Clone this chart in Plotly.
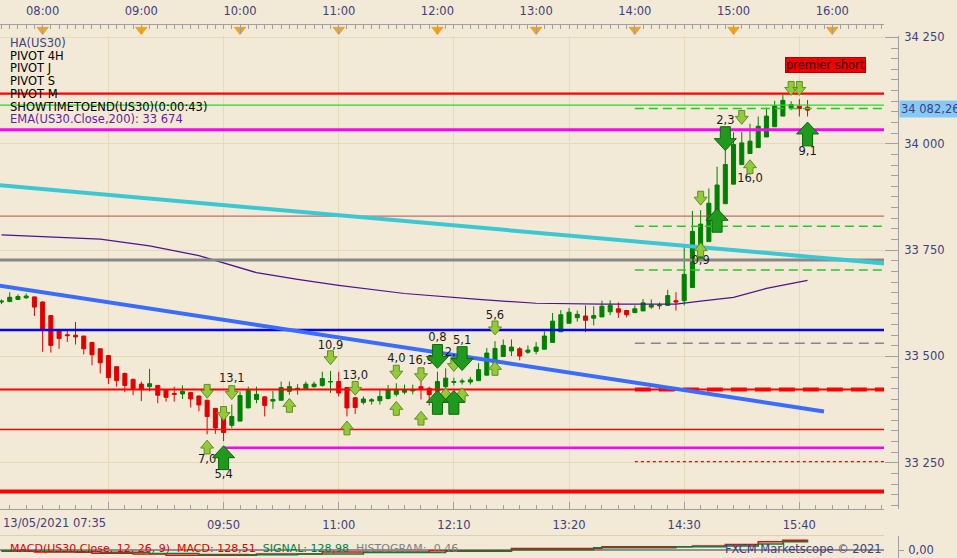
import plotly.graph_objects as go
import pandas as pd

DAY = "2021-05-13 "
BG = "#f2ead6"
GRID = "#e6d9bd"
NAVY = "#404080"
FONT = "DejaVu Sans"

# ---------------- data ----------------
candle_time = pd.date_range(DAY + "07:35", periods=99, freq="5min")
ha_open = [33628, 33629, 33634, 33638, 33640, 33628, 33596, 33561, 33551, 33550,
           33548, 33533, 33518, 33502, 33476, 33460, 33446, 33435, 33429, 33432,
           33421, 33413, 33412, 33415, 33407, 33397, 33378, 33355, 33338, 33348,
           33379, 33399, 33405, 33395, 33397, 33418, 33423, 33424, 33429, 33432,
           33440, 33441, 33427, 33403, 33392, 33395, 33396, 33401, 33411, 33416,
           33419, 33429, 33425, 33418, 33429, 33439, 33440, 33440, 33443, 33456,
           33482, 33500, 33513, 33518, 33510, 33512, 33517, 33533, 33558, 33578,
           33591, 33595, 33590, 33593, 33605, 33612, 33608, 33603, 33607, 33616,
           33619, 33620, 33631, 33631, 33662, 33728, 33770, 33815, 33859, 33905,
           33951, 33977, 33991, 34016, 34040, 34065, 34084, 34088, 34086]
ha_high = [33634, 33651, 33646, 33648, 33641, 33630, 33597, 33561, 33561, 33581,
           33548, 33533, 33518, 33502, 33476, 33462, 33448, 33441, 33471, 33432,
           33422, 33429, 33432, 33415, 33408, 33398, 33378, 33355, 33387, 33418,
           33429, 33429, 33406, 33419, 33441, 33441, 33435, 33441, 33441, 33464,
           33466, 33464, 33427, 33404, 33406, 33402, 33422, 33433, 33437, 33434,
           33434, 33441, 33429, 33464, 33472, 33450, 33448, 33452, 33484, 33520,
           33536, 33540, 33540, 33522, 33526, 33534, 33559, 33602, 33609, 33614,
           33608, 33620, 33618, 33631, 33632, 33627, 33608, 33620, 33635, 33634,
           33627, 33657, 33651, 33760, 33842, 33844, 33895, 33946, 34000, 34027,
           34028, 34047, 34064, 34085, 34101, 34115, 34100, 34105, 34103]
ha_low = [33623, 33628, 33633, 33635, 33595, 33511, 33509, 33518, 33534, 33528,
          33505, 33479, 33460, 33435, 33429, 33416, 33409, 33395, 33418, 33390,
          33394, 33394, 33400, 33380, 33371, 33317, 33318, 33301, 33332, 33348,
          33379, 33390, 33359, 33377, 33397, 33410, 33410, 33424, 33427, 33429,
          33414, 33406, 33359, 33365, 33387, 33387, 33387, 33399, 33406, 33411,
          33411, 33399, 33385, 33413, 33425, 33432, 33434, 33434, 33443, 33456,
          33482, 33500, 33501, 33491, 33506, 33505, 33517, 33533, 33558, 33578,
          33582, 33557, 33573, 33593, 33597, 33591, 33592, 33602, 33607, 33612,
          33611, 33620, 33608, 33620, 33662, 33728, 33770, 33815, 33859, 33905,
          33951, 33977, 33991, 34016, 34040, 34065, 34079, 34064, 34064]
ha_close = [33630, 33639, 33641, 33642, 33616, 33564, 33526, 33542, 33549, 33546,
            33518, 33504, 33485, 33450, 33443, 33432, 33424, 33422, 33436, 33409,
            33404, 33411, 33418, 33400, 33386, 33359, 33332, 33321, 33359, 33408,
            33420, 33411, 33385, 33399, 33427, 33429, 33425, 33435, 33435, 33448,
            33441, 33414, 33379, 33380, 33400, 33398, 33406, 33422, 33420, 33422,
            33421, 33422, 33410, 33441, 33449, 33441, 33442, 33445, 33469, 33508,
            33519, 33526, 33522, 33501, 33515, 33522, 33548, 33583, 33598, 33604,
            33599, 33585, 33596, 33618, 33620, 33604, 33598, 33612, 33626, 33621,
            33621, 33643, 33628, 33693, 33794, 33811, 33860, 33903, 33951, 33998,
            34002, 34006, 34041, 34065, 34089, 34102, 34092, 34083, 34079]

# EMA(200)
ema_time = ["07:35", "08:35", "09:05", "09:35", "10:10", "10:35", "11:00", "11:40",
            "12:25", "13:00", "13:40", "14:25", "14:40", "15:00", "15:20", "15:45"]
ema_price = [33786, 33776, 33760, 33737, 33697, 33681, 33667, 33648,
             33634, 33625, 33623, 33623, 33630, 33639, 33660, 33679]

# horizontal levels: price, start, colour, width, dash
level_price = [34117.6, 34090.8, 34083.0, 34032.6, 33829.9, 33806.0, 33726.7, 33703.4,
               33562.0, 33531.0, 33422.3, 33422.3, 33328.4, 33285.5, 33252.9, 33182.4]
level_start = ["07:30", "07:30", "14:00", "07:30", "07:30", "14:00", "07:30", "14:00",
               "07:30", "14:00", "07:30", "14:00", "07:30", "09:50", "14:00", "07:30"]
level_end = "16:40"
level_color = ["#ff0000", "#22dd22", "#22cc22", "#ff00ff", "#b05050", "#22cc22", "#888888", "#22cc22",
               "#0000ff", "#888888", "#ff0000", "#ff0000", "#ff0000", "#ff00ff", "#ff0000", "#ff0000"]
level_width = [2.2, 1.2, 1.5, 3, 1, 1.5, 3.2, 1.5, 2.5, 1.5, 2.2, 4, 1.5, 2.5, 1.3, 4]
level_dash = ["solid", "solid", "9px,5px", "solid", "solid", "9px,5px", "solid", "9px,5px",
              "solid", "10px,6px", "solid", "16px,8px", "solid", "solid", "3px,3px", "solid"]

# trend lines
cyan_time = ["07:30", "16:35"]
cyan_price = [33903.6, 33717.6]
blue_time = ["07:30", "15:55"]
blue_price = [33668.5, 33370.8]

# signal arrows
small_down_time = ["09:40", "09:55", "09:50", "10:55", "11:10", "11:35", "11:50", "12:10",
                   "12:35", "14:40", "15:05", "15:35", "15:40"]
small_down_price = [33418, 33415, 33366, 33497, 33425, 33463, 33457, 33481,
                    33567, 33872, 34062, 34130, 34130]
small_up_time = ["09:40", "10:30", "11:05", "11:35", "11:50", "12:05", "12:15", "12:35",
                 "14:40", "15:10"]
small_up_price = [33287, 33385, 33332, 33378, 33355, 33410, 33410, 33472, 33751, 33946]
big_down_time = ["12:00", "12:15", "14:55"]
big_down_price = [33500, 33495, 34012]
big_up_time = ["09:50", "12:00", "12:10", "14:50", "15:45"]
big_up_price = [33262, 33392, 33392, 33820, 34023]

label_text = ["13,1", "7,0", "5,4", "10,9", "13,0", "4,0", "16,9", "0,8", "5,1", "2,1",
              "5,6", "0,9", "2,3", "16,0", "9,1"]
label_time = ["09:55", "09:40", "09:50", "10:55", "11:10", "11:35", "11:50", "12:00", "12:15",
              "12:10", "12:35", "14:40", "14:55", "15:10", "15:45"]
label_price = [33446, 33257, 33222, 33525, 33453, 33493, 33488, 33542, 33537, 33507,
               33595, 33723, 34054, 33916, 33981]

# MACD panel
macd_time = ["07:35", "07:55", "08:20", "08:30", "08:55", "09:15", "09:45", "10:10", "10:50",
             "11:55", "12:45", "13:40", "14:35", "14:55", "15:15", "15:30", "15:45"]
macd_val = [-13, -26, -30, -43, -52, -69, -69, -52, -26, -9, 22, 43, 52, 74, 108, 130, 129]
signal_time = ["07:35", "08:05", "08:35", "09:05", "09:35", "10:05", "10:35", "11:15", "12:05",
               "12:45", "13:35", "14:25", "14:55", "15:15", "15:30", "15:45"]
signal_val = [-16, -20, -30, -45, -58, -62, -50, -32, -15, 5, 30, 45, 55, 80, 110, 129]

hour_ticks = ["08:00", "09:00", "10:00", "11:00", "12:00", "13:00", "14:00", "15:00", "16:00"]
bottom_ticks = ["08:40", "09:50", "11:00", "12:10", "13:20", "14:30", "15:40"]
bottom_text = ["", "09:50", "11:00", "12:10", "13:20", "14:30", "15:40"]

legend_lines = ["HA(US30)", "PIVOT 4H", "PIVOT J", "PIVOT S", "PIVOT M",
                "SHOWTIMETOEND(US30)(0:00:43)", "EMA(US30.Close,200): 33 674"]
legend_colors = [NAVY, "#000000", "#000000", "#000000", "#000000", "#000000", "#6a1aa8"]

note_text = "premier short"
note_time = "15:56"
note_price = 34185
last_price = 34082.26

# ---------------- geometry helpers ----------------
X0 = pd.Timestamp(DAY + "07:34:05")
X1 = pd.Timestamp(DAY + "16:31:28")
Y0, Y1 = 33140.4, 34253.9
PX_PER_MIN = 1.6438
PX_PER_PT = 478.0 / (Y1 - Y0)


def T(hm):
    return pd.Timestamp(DAY + hm)


def arrows(times, prices, direction, w, h, sw, sh):
    xs, ys = [], []
    for t, p in zip(times, prices):
        tt = T(t)
        pts = [(-sw / 2, -h / 2), (sw / 2, -h / 2), (sw / 2, -h / 2 + sh), (w / 2, -h / 2 + sh),
               (0, h / 2), (-w / 2, -h / 2 + sh), (-sw / 2, -h / 2 + sh), (-sw / 2, -h / 2)]
        for dx, dy in pts:
            if direction == "up":
                dy = -dy
            xs.append(tt + pd.Timedelta(minutes=dx / PX_PER_MIN))
            ys.append(p - dy / PX_PER_PT)
        xs.append(None)
        ys.append(None)
    return xs, ys


fig = go.Figure()

# candles
fig.add_trace(go.Candlestick(
    x=candle_time, open=ha_open, high=ha_high, low=ha_low, close=ha_close,
    increasing=dict(line=dict(color="#008000", width=1), fillcolor="#008000"),
    decreasing=dict(line=dict(color="#e00000", width=1), fillcolor="#e00000"),
    whiskerwidth=0, hoverinfo="skip"))

# EMA
fig.add_trace(go.Scatter(x=[T(t) for t in ema_time], y=ema_price, mode="lines",
                         line=dict(color="#4b1490", width=1.2), hoverinfo="skip"))

# levels
for p, s, c, w, d in zip(level_price, level_start, level_color, level_width, level_dash):
    fig.add_trace(go.Scatter(x=[T(s), T(level_end)], y=[p, p], mode="lines",
                             line=dict(color=c, width=w, dash=d), hoverinfo="skip"))

# trend lines
fig.add_trace(go.Scatter(x=[T(t) for t in cyan_time], y=cyan_price, mode="lines",
                         line=dict(color="#3cc8d2", width=4), hoverinfo="skip"))
fig.add_trace(go.Scatter(x=[T(t) for t in blue_time], y=blue_price, mode="lines",
                         line=dict(color="#3a6cff", width=4), hoverinfo="skip"))

# labels (below arrows)
fig.add_trace(go.Scatter(x=[T(t) for t in label_time], y=label_price, mode="text",
                         text=label_text, textposition="middle center",
                         textfont=dict(family=FONT, size=11.5, color="#1a1a1a"),
                         hoverinfo="skip"))

# arrows
for tl, pl, d, w, h, sw, sh, fill, edge in [
    (small_down_time, small_down_price, "down", 13, 14, 6, 6, "#95c83c", "#5f8f1f"),
    (small_up_time, small_up_price, "up", 13, 14, 6, 6, "#95c83c", "#5f8f1f"),
    (big_down_time, big_down_price, "down", 22, 24, 10, 12, "#1f9a1f", "#0b660b"),
    (big_up_time, big_up_price, "up", 22, 24, 10, 12, "#1f9a1f", "#0b660b"),
]:
    xs, ys = arrows(tl, pl, d, w, h, sw, sh)
    fig.add_trace(go.Scatter(x=xs, y=ys, mode="lines", fill="toself", fillcolor=fill,
                             line=dict(color=edge, width=1), hoverinfo="skip"))

# top axis hour markers
fig.add_trace(go.Scatter(x=[T(t) for t in hour_ticks], y=[0.55] * len(hour_ticks),
                         xaxis="x2", yaxis="y3", mode="markers", cliponaxis=False,
                         marker=dict(symbol="triangle-down", size=10, color="#f5a31f",
                                     line=dict(color="#e08a10", width=0.5)),
                         hoverinfo="skip"))

# MACD
fig.add_trace(go.Scatter(x=[T(t) for t in macd_time], y=macd_val, xaxis="x3", yaxis="y2",
                         mode="lines", line=dict(color="#ff0000", width=1.5, shape="hv"),
                         hoverinfo="skip"))
fig.add_trace(go.Scatter(x=[T(t) for t in signal_time], y=signal_val, xaxis="x3", yaxis="y2",
                         mode="lines", line=dict(color="#008040", width=1.5, shape="hv"),
                         hoverinfo="skip"))

DOM_X = [0, 884 / 957]
AXIS_X = 898 / 957

fig.update_layout(
    width=957, height=558, margin=dict(l=0, r=0, t=0, b=0),
    paper_bgcolor=BG, plot_bgcolor=BG, showlegend=False, separators=", ",
    font=dict(family=FONT, size=11.5, color=NAVY),
    xaxis=dict(domain=DOM_X, range=[X0, X1], type="date", anchor="y",
               rangeslider=dict(visible=False),
               tickmode="array", tickvals=[T(t) for t in bottom_ticks], ticktext=bottom_text,
               showgrid=True, gridcolor=GRID, gridwidth=1, zeroline=False,
               ticks="inside", ticklen=7, tickcolor="#a0a0a0",
               showline=True, linecolor="#a0a0a0", ticklabelstandoff=5,
               minor=dict(ticks="inside", ticklen=4, tickcolor="#a0a0a0",
                          tick0=T("08:40"), dtick=600000, showgrid=False),
               tickfont=dict(family=FONT, size=11.5, color=NAVY)),
    xaxis2=dict(domain=DOM_X, range=[X0, X1], type="date", anchor="y3", side="top",
                tickmode="linear", tick0=T("08:00"), dtick=3600000, tickformat="%H:%M",
                ticks="inside", ticklen=9, tickcolor="#a0a0a0", showgrid=False, zeroline=False,
                showline=True, linecolor="#a0a0a0", ticklabelstandoff=4,
                minor=dict(ticks="inside", ticklen=4, tickcolor="#a0a0a0", dtick=300000),
                tickfont=dict(family=FONT, size=11.5, color=NAVY)),
    xaxis3=dict(domain=DOM_X, range=[X0, X1], type="date", anchor="y2", side="top",
                showticklabels=False, ticks="", showgrid=False, zeroline=False,
                showline=True, linecolor="#e0d0b0"),
    yaxis=dict(domain=[49 / 558, 527 / 558], range=[Y0, Y1], side="right", anchor="free",
               position=AXIS_X, tickmode="linear", tick0=33250, dtick=250, tickformat=",d",
               ticks="inside", ticklen=13, tickcolor="#a0a0a0", showline=True,
               linecolor="#a0a0a0", showgrid=True, gridcolor=GRID, zeroline=False,
               ticklabelstandoff=3,
               minor=dict(ticks="inside", ticklen=7, tickcolor="#a0a0a0", dtick=25, showgrid=False),
               tickfont=dict(family=FONT, size=11.5, color=NAVY)),
    yaxis2=dict(domain=[0, 22 / 558], range=[-104, 182], side="right", anchor="free",
                position=AXIS_X, tickmode="array", tickvals=[0], ticktext=["0,00"],
                ticks="outside", ticklen=5, tickcolor="#a0a0a0", showline=True,
                linecolor="#a0a0a0", showgrid=False, zeroline=True,
                zerolinecolor="#909090", zerolinewidth=2, ticklabelstandoff=2,
                tickfont=dict(family=FONT, size=11.5, color=NAVY)),
    yaxis3=dict(domain=[1 - 31 / 558, 1 - 20 / 558], range=[0, 1], anchor="x2", visible=False),
)

ann = []
legend_y = [38.5, 51.2, 64, 76.7, 89.4, 102.5, 115.5]
for txt, col, yy in zip(legend_lines, legend_colors, legend_y):
    ann.append(dict(text=txt, xref="paper", yref="paper", x=8 / 957, y=1 - yy / 558,
                    xanchor="left", yanchor="middle", showarrow=False,
                    font=dict(family=FONT, size=11.5, color=col)))
ann.append(dict(text=note_text, xref="x", yref="y", x=T(note_time), y=note_price,
                showarrow=False, bgcolor="#f00000", bordercolor="#b00000", borderwidth=1,
                borderpad=0, font=dict(family=FONT, size=11.5, color="#3a0000")))
ann.append(dict(text=f"{last_price:,.2f}".replace(",", " ").replace(".", ","),
                xref="paper", yref="y", x=899 / 957, y=last_price, xanchor="left",
                yanchor="middle", showarrow=False, bgcolor="#86c9f6", borderpad=1,
                font=dict(family=FONT, size=11.5, color=NAVY)))
ann.append(dict(text="13/05/2021 07:35", xref="paper", yref="paper", x=1 / 957, y=1 - 523 / 558,
                xanchor="left", yanchor="middle", showarrow=False,
                font=dict(family=FONT, size=11.5, color=NAVY)))
ann.append(dict(text="<span style='color:#e00000'>MACD(US30.Close, 12, 26, 9)  MACD: 128,51</span>"
                     "  <span style='color:#008040'>SIGNAL: 128,98</span>"
                     "  <span style='color:#808080'>HISTOGRAM: -0,46</span>",
                xref="paper", yref="paper", x=8 / 957, y=1 - 548 / 558,
                xanchor="left", yanchor="middle", showarrow=False,
                font=dict(family=FONT, size=11, color="#e00000")))
ann.append(dict(text="FXCM Marketscope © 2021", xref="paper", yref="paper", x=884 / 957,
                y=1 - 549 / 558, xanchor="right", yanchor="middle", showarrow=False,
                font=dict(family=FONT, size=11.5, color=NAVY)))
fig.update_layout(annotations=ann)

fig.write_html("out.html", config={"displayModeBar": False},
               post_script="document.body.style.margin='0px';")
